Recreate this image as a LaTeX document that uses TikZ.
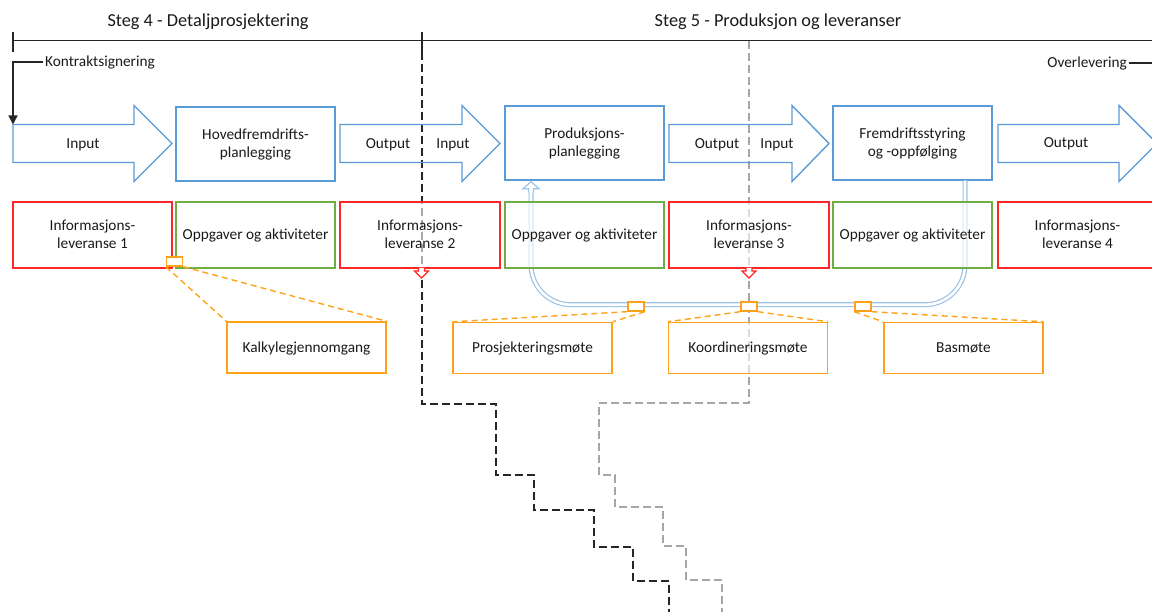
\documentclass[tikz,border=0pt]{standalone}
\usepackage{fontspec}
\setmainfont{Carlito}
\usetikzlibrary{arrows.meta}
\definecolor{cblue}{HTML}{5B9BD5}
\definecolor{cloop}{HTML}{9DC3E6}
\definecolor{cred}{HTML}{FF2626}
\definecolor{cgreen}{HTML}{70AD47}
\definecolor{corange}{HTML}{FFA218}
\definecolor{cgrey}{HTML}{A6A6A6}
\definecolor{ctext}{HTML}{1A1A1A}
\definecolor{cline}{HTML}{262626}
% strut giving every text line the same height and depth
\newcommand\tstr{\rule[-3.4pt]{0pt}{16.4pt}}
\newcommand\twol[2]{\tstr#1\\\tstr#2}
% hollow block arrow: start x, head base x, tip x
\newcommand\blockarrow[3]{%
  \draw[arrowline] (#1,124.5) -- (#2,124.5) -- (#2,105.5) -- (#3,143.5)
    -- (#2,181.5) -- (#2,162.5) -- (#1,162.5) -- cycle;}
% small red delivery arrow under a box, centred at x
\newcommand\droparrow[1]{%
  \draw[redtip] (#1-3,268) -- (#1-3,271) -- (#1-7,271) -- (#1,278)
    -- (#1+7,271) -- (#1+3,271) -- (#1+3,268);}

\begin{document}
\begin{tikzpicture}[x=1pt,y=-1pt,
  txt/.style={font=\fontsize{15.3}{18.3}\selectfont, text=ctext, inner sep=0pt, align=center},
  titletxt/.style={font=\fontsize{18.3}{22}\selectfont, text=ctext, inner sep=0pt},
  panel/.style={txt, minimum width=159pt, minimum height=#1, line width=1.4pt,
    fill=white, fill opacity=0.6, text opacity=1},
  panel/.default=74pt,
  bluebox/.style={panel, draw=cblue},
  redbox/.style={panel=66pt, draw=cred},
  greenbox/.style={panel=66pt, draw=cgreen},
  meetbox/.style={panel=51pt, draw=corange},
  marker/.style={draw=corange, line width=1.4pt, fill=white,
    minimum width=16pt, minimum height=9pt, inner sep=0pt},
  arrowline/.style={draw=cblue, line width=1.4pt, line join=miter},
  redtip/.style={draw=cred, line width=1.4pt, fill=white, line join=miter},
  tline/.style={draw=cline, line width=1.3pt},
  stairblack/.style={draw=cline, line width=1.5pt, dash pattern=on 8pt off 4pt},
  stairgrey/.style={draw=cgrey, line width=1.5pt, dash pattern=on 8pt off 4pt},
  looplink/.style={draw=cloop, line width=1.2pt, double=white, double distance=2.6pt},
  meetlink/.style={draw=corange, line width=1.4pt, dash pattern=on 6pt off 4pt},
]
\useasboundingbox (0,0) rectangle (1152,612);
\clip (0,0) rectangle (1152,612);

% phase titles and timeline
\node[titletxt, anchor=base] (steg4) at (208,26.7) {Steg 4 - Detaljprosjektering};
\node[titletxt, anchor=base] (steg5) at (778,26.7) {Steg 5 - Produksjon og leveranser};
\draw[tline] (13,40.5) -- (1152,40.5);
\draw[tline] (13,32) -- (13,52);
\draw[tline] (422,32) -- (422,52);

% stepped progress lines
\draw[stairblack] (422,52) -- (422,404) -- (496,404) -- (496,475) -- (534,475)
  -- (534,510) -- (594,510) -- (594,547) -- (633,547) -- (633,581) -- (669,581) -- (669,612);
\draw[stairgrey] (749,41) -- (749,403) -- (599,403) -- (599,475) -- (615,475)
  -- (615,507) -- (663,507) -- (663,546) -- (686,546) -- (686,580) -- (722,580) -- (722,612);

% milestones
\node[txt, anchor=base west] (kontrakt) at (45,67) {Kontraktsignering};
\coordinate (kstart) at (43,62);
\coordinate (kend) at (13,124.5);
\draw[tline, -{Triangle[width=9pt,length=9pt]}] (kstart) -| (kend);
\node[txt, anchor=base east] (overl) at (1127,67.3) {Overlevering};
\coordinate (oend) at (1152,63);
\draw[tline] (overl.east |- oend) ++(2,0) -- (oend);

% process boxes
\node[bluebox] (hoved) at (255.5,144) {\twol{Hovedfremdrifts-}{planlegging}};
\node[bluebox] (prod) at (584.5,143) {\twol{Produksjons-}{planlegging}};
\node[bluebox] (frem) at (912.5,143) {\twol{Fremdriftsstyring}{og -oppfølging}};

% feedback loop from follow-up back to production planning
\draw[looplink, rounded corners=40pt] ([xshift=-53.5pt,yshift=-8pt]prod.south)
  -- ++(0,116) -- ++(434,0) -- ([xshift=52.5pt]frem.south);
\draw[draw=cloop, line width=1.2pt, fill=white, line join=miter]
  ([xshift=-56pt,yshift=-12pt]prod.south) -- ++(0,-4) -- ++(-5.5,0)
  -- ([xshift=-53.5pt,yshift=-1pt]prod.south) -- ++(8,7) -- ++(-5.5,0) -- ++(0,4);

% deliverables and activities
\node[redbox] (info1) at (92.5,235) {\twol{Informasjons-}{leveranse 1}};
\node[greenbox] (opp1) at (255.5,235) {\tstr Oppgaver og aktiviteter};
\node[redbox, minimum width=160pt] (info2) at (420,235) {\twol{Informasjons-}{leveranse 2}};
\node[greenbox] (opp2) at (584.5,235) {\tstr Oppgaver og aktiviteter};
\node[redbox, minimum width=160pt] (info3) at (749,235) {\twol{Informasjons-}{leveranse 3}};
\node[greenbox] (opp3) at (912.5,235) {\tstr Oppgaver og aktiviteter};
\node[redbox] (info4) at (1077.5,235) {\twol{Informasjons-}{leveranse 4}};

% input / output arrows
\blockarrow{13}{134}{172}
\blockarrow{340}{462}{500}
\blockarrow{669}{792}{829}
\blockarrow{998}{1119}{1157}
\node[txt] (in1) at (83,143.5) {\tstr Input};
\node[txt] (out2) at (388,143.5) {\tstr Output};
\node[txt] (in2) at (453,143.5) {\tstr Input};
\node[txt] (out3) at (717,143.5) {\tstr Output};
\node[txt] (in3) at (777,143.5) {\tstr Input};
\node[txt] (out4) at (1066,142.5) {\tstr Output};

\droparrow{421.5}
\droparrow{749}

% meetings
\node[meetbox] (kalk) at (306.5,347.5) {\tstr Kalkylegjennomgang};
\node[meetbox] (pros) at (532.5,348) {\tstr Prosjekteringsmøte};
\node[meetbox] (koord) at (748,348) {\tstr Koordineringsmøte};
\node[meetbox] (bas) at (963.5,348) {\tstr Basmøte};

\node[marker] (m0) at (174.5,261.5) {};
\node[marker] (m1) at (636,306.5) {};
\node[marker] (m2) at (749,306.5) {};
\node[marker] (m3) at (863,306.5) {};

\draw[meetlink] (m0.south west) -- (kalk.north west);
\draw[meetlink] (m0.south east) -- (kalk.north east);
\draw[meetlink] (m1.south west) -- (pros.north west);
\draw[meetlink] (m1.south east) -- (pros.north east);
\draw[meetlink] (m2.south west) -- (koord.north west);
\draw[meetlink] (m2.south east) -- (koord.north east);
\draw[meetlink] (m3.south west) -- (bas.north west);
\draw[meetlink] (m3.south east) -- (bas.north east);
\end{tikzpicture}
\end{document}
